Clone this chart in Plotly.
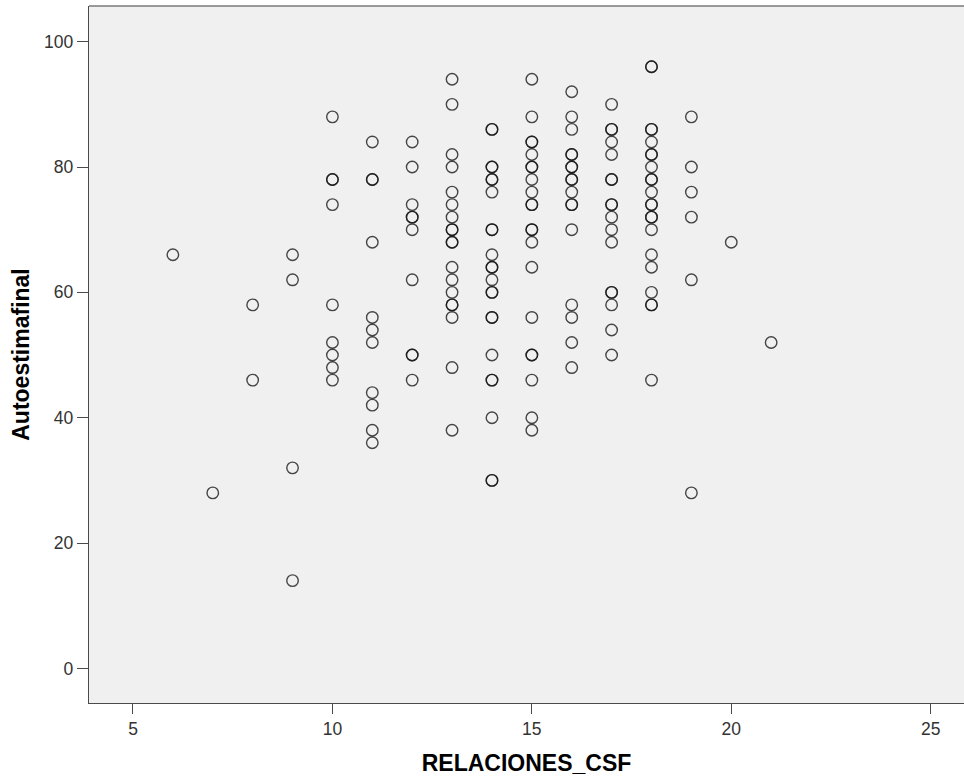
import plotly.graph_objects as go

# RELACIONES_CSF values and Autoestimafinal values (duplicates included)
col_6 = [66]
col_7 = [28]
col_8 = [58, 46]
col_9 = [66, 62, 32, 14]
col_10 = [88, 78, 78, 74, 58, 52, 50, 48, 46]
col_11 = [84, 78, 78, 68, 56, 54, 52, 44, 42, 38, 36]
col_12 = [84, 80, 74, 72, 72, 70, 62, 50, 50, 46]
col_13 = [94, 90, 82, 80, 76, 74, 72, 70, 70, 68, 68, 64, 62, 60, 58, 58, 56, 48, 38]
col_14 = [86, 86, 80, 80, 78, 78, 76, 70, 70, 66, 64, 64, 62, 60, 60, 56, 56, 50, 46, 46, 40, 30, 30]
col_15 = [94, 88, 84, 84, 82, 80, 80, 78, 76, 74, 74, 70, 70, 68, 64, 56, 50, 50, 46, 40, 38]
col_16 = [92, 88, 86, 82, 82, 80, 80, 78, 78, 76, 74, 74, 70, 58, 56, 52, 48]
col_17 = [90, 86, 86, 84, 82, 78, 78, 74, 74, 72, 70, 68, 60, 60, 58, 54, 50]
col_18 = [96, 96, 86, 86, 84, 82, 82, 80, 78, 78, 76, 74, 74, 72, 72, 70, 66, 64, 60, 58, 58, 46]
col_19 = [88, 80, 76, 72, 62, 28]
col_20 = [68]
col_21 = [52]

columns = {6: col_6, 7: col_7, 8: col_8, 9: col_9, 10: col_10, 11: col_11,
           12: col_12, 13: col_13, 14: col_14, 15: col_15, 16: col_16,
           17: col_17, 18: col_18, 19: col_19, 20: col_20, 21: col_21}

x_vals = []
y_vals = []
for k, vals in columns.items():
    for v in vals:
        x_vals.append(k)
        y_vals.append(v)

x_ticks = [5, 10, 15, 20, 25]
y_ticks = [0, 20, 40, 60, 80, 100]

fig = go.Figure()
fig.add_trace(go.Scatter(
    x=x_vals, y=y_vals, mode="markers",
    marker=dict(symbol="circle-open", size=11.5, color="rgba(20,20,20,0.78)",
                line=dict(width=1.4, color="rgba(20,20,20,0.78)")),
    showlegend=False, hoverinfo="x+y"))

axis_font = dict(family="Liberation Sans, Arial, sans-serif", size=17.5, color="#333333")
title_font = dict(family="Liberation Sans, Arial, sans-serif", size=23, color="#000000")

fig.update_layout(
    width=964, height=777,
    margin=dict(l=89, r=0, t=6, b=74),
    paper_bgcolor="white",
    plot_bgcolor="#f0f0f0",
    xaxis=dict(
        range=[3.897, 25.835], tickvals=x_ticks, ticktext=[str(t) for t in x_ticks],
        showgrid=False, zeroline=False, showline=True, linecolor="#4a4a4a", linewidth=1.4,
        ticks="outside", ticklen=10, tickwidth=1.4, tickcolor="#4a4a4a",
        tickfont=axis_font,
        title=dict(text="<b>RELACIONES_CSF</b>", font=title_font, standoff=16),
    ),
    yaxis=dict(
        range=[-5.52, 105.69], tickvals=y_ticks, ticktext=[str(t) for t in y_ticks],
        showgrid=False, zeroline=False, showline=True, linecolor="#4a4a4a", linewidth=1.4,
        ticks="outside", ticklen=11, tickwidth=1.4, tickcolor="#4a4a4a",
        tickfont=axis_font,
        title=dict(text="<b>Autoestimafinal</b>", font=title_font, standoff=8),
    ),
    shapes=[dict(type="line", xref="paper", yref="paper", x0=0, x1=1, y0=1, y1=1,
                 line=dict(color="#7a7a7a", width=1.6))],
)

fig.write_html("out.html", config={"displayModeBar": False},
               post_script="document.body.style.margin='0';document.body.style.overflow='hidden';")
